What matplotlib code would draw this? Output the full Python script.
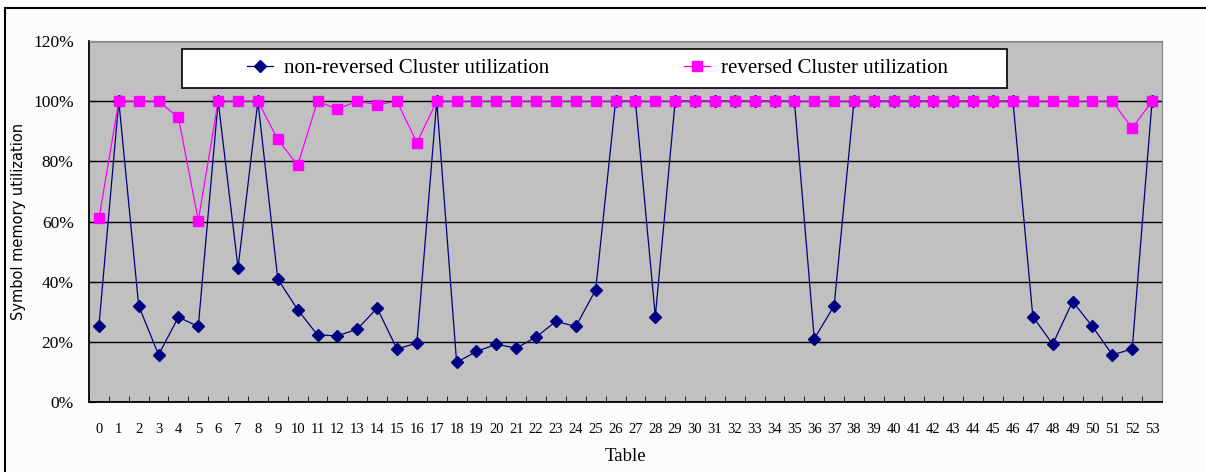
import numpy as np
import matplotlib
matplotlib.use('Agg')
import matplotlib.pyplot as plt
from matplotlib.patches import Rectangle
from matplotlib.ticker import PercentFormatter

tables = list(range(54))
non_reversed = [25.3, 100, 32.0, 15.7, 28.2, 25.1, 100, 44.6, 100, 40.9,
                30.7, 22.3, 22.0, 24.2, 31.2, 17.6, 19.6, 100, 13.2, 16.8,
                19.2, 17.9, 21.6, 26.8, 25.1, 37.3, 100, 100, 28.4, 100,
                100, 100, 100, 100, 100, 100, 21.0, 32.0, 100, 100,
                100, 100, 100, 100, 100, 100, 100, 28.4, 19.2, 33.4,
                25.1, 15.7, 17.6, 100]
reversed_ = [61.0, 100, 100, 100, 94.6, 60.3, 100, 100, 100, 87.3,
             78.7, 100, 97.3, 100, 98.8, 100, 86.2, 100, 100, 100,
             100, 100, 100, 100, 100, 100, 100, 100, 100, 100,
             100, 100, 100, 100, 100, 100, 100, 100, 100, 100,
             100, 100, 100, 100, 100, 100, 100, 100, 100, 100,
             100, 100, 91.0, 100]

plt.rcParams['font.family'] = ['Liberation Serif', 'DejaVu Serif']

fig = plt.figure(figsize=(12.06, 4.72), dpi=100, facecolor='#fcfdfa')
ax = fig.add_axes([89/1206, 70/472, 1073/1206, 361/472])
ax.set_facecolor('#c0c0c0')

ax.plot(tables, non_reversed, color='#000080', lw=0.9, marker='D', ms=6,
        label='non-reversed Cluster utilization', zorder=3)
ax.plot(tables, reversed_, color='#ff00ff', lw=0.9, marker='s', ms=6.5,
        label='reversed Cluster utilization', zorder=4)

ax.set_xlim(-0.5, 53.5)
ax.set_ylim(0, 120)
ax.set_yticks(np.arange(0, 121, 20))
ax.yaxis.set_major_formatter(PercentFormatter(decimals=0))
ax.grid(axis='y', color='black', lw=1, zorder=1)
ax.set_axisbelow(True)

ax.set_xticks(tables)
ax.set_xticks(np.arange(-0.5, 54, 1), minor=True)
ax.tick_params(axis='x', which='major', length=0, pad=15, labelsize=10.5)
ax.tick_params(axis='x', which='minor', direction='in', length=4, color='black')
ax.tick_params(axis='y', direction='in', length=4, pad=11, labelsize=12.5)

for s in ['top', 'right']:
    ax.spines[s].set_color('#808080')
for s in ['left', 'bottom']:
    ax.spines[s].set_color('black')
    ax.spines[s].set_linewidth(1.3)

ax.set_xlabel('Table', fontsize=13.5, labelpad=9)
ax.set_ylabel('Symbol memory utilization', family='DejaVu Sans', fontsize=10.5, labelpad=5)

# legend box
ax.add_patch(Rectangle((0.0867, 0.870), 0.769, 0.108, transform=ax.transAxes,
                       facecolor='white', edgecolor='black', lw=1.2, zorder=5))
ax.legend(loc='center', bbox_to_anchor=(0.474, 0.924), ncol=2, frameon=False,
          fontsize=15, columnspacing=6.5, handlelength=1.25, handletextpad=0.5,
          markerscale=1.0).set_zorder(6)

# outer chart border (cropped on right/bottom)
fig.patches.append(Rectangle((5/1206, -0.1), 1.2, (472-8)/472 + 0.1,
                             transform=fig.transFigure, fill=False,
                             edgecolor='black', lw=1.5))

fig.savefig('out.png', dpi=100, facecolor=fig.get_facecolor())
